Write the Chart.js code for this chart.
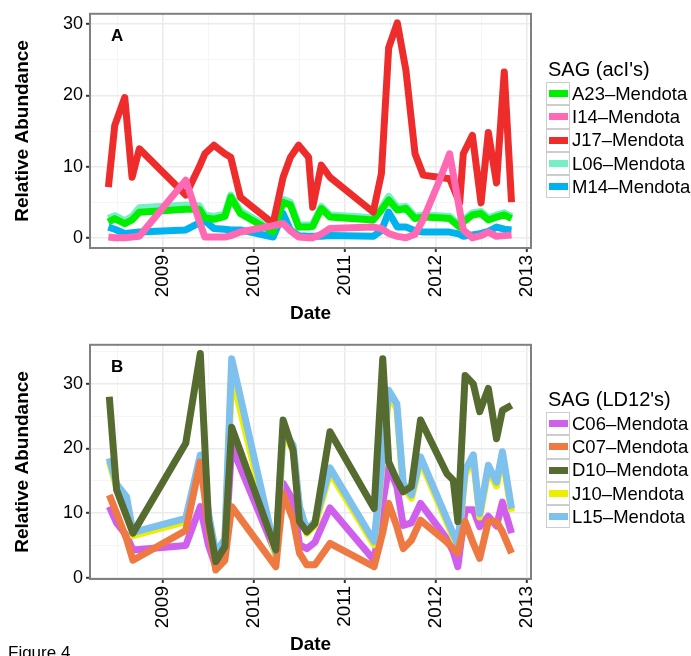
<!DOCTYPE html>
<html>
<head>
<meta charset="utf-8">
<script src="https://cdn.jsdelivr.net/npm/chart.js@4.4.0/dist/chart.umd.min.js"></script>
<style>
  body { margin: 0; width: 691px; height: 656px; overflow: hidden; background: #fff; position: relative;
         font-family: "Liberation Sans", Arial, Helvetica, sans-serif; color: #000; }
  .panel { position: absolute; left: 0; width: 691px; height: 330px; }
  .legend { position: absolute; left: 546px; }
  .legend .ttl { position: absolute; left: 2px; top: 0; font-size: 20px; line-height: 24px; white-space: nowrap; }
  .legend .keys { position: absolute; left: 0; top: 25px; }
  .legend .row { display: flex; align-items: center; height: 23.3px; }
  .legend .key { box-sizing: border-box; width: 24px; height: 23.3px; border: 1px solid #cdcdcd;
                 display: flex; align-items: center; justify-content: center; background: #fff; }
  .legend .bar { width: 19px; height: 7px; }
  .legend .lbl { margin-left: 2px; font-size: 18.5px; white-space: nowrap; }
  #fig { position: absolute; left: 8px; top: 643px; font-size: 17px; z-index: 5; }
</style>
</head>
<body>
<div class="panel" style="top:0"><canvas id="chartA" width="691" height="330"></canvas></div>
<div class="panel" style="top:331px"><canvas id="chartB" width="691" height="330"></canvas></div>
<div class="legend" id="legA" style="top:57px"></div>
<div class="legend" id="legB" style="top:387px"></div>
<div id="fig">Figure 4</div>

<script>
// sampling dates (decimal years) and relative abundances, acI SAGs
const datesA = [2008.40, 2008.47, 2008.58, 2008.66, 2008.74, 2009.25, 2009.40, 2009.46, 2009.56, 2009.68,
                2009.745, 2009.85, 2010.21, 2010.32, 2010.40, 2010.49, 2010.60, 2010.645, 2010.74, 2010.835,
                2011.31, 2011.40, 2011.48, 2011.575, 2011.67, 2011.77, 2011.86, 2012.03, 2012.15, 2012.26,
                2012.30, 2012.40, 2012.495, 2012.575, 2012.665, 2012.75, 2012.83];
const a23 = [2.2, 2.7, 2.0, 2.5, 3.6, 4.0, 4.0, 2.8, 2.6, 3.0, 5.7, 3.4, 0.8, 5.0, 4.6, 1.5, 1.5, 1.6, 4.1, 2.9,
             2.5, 3.9, 5.3, 3.9, 4.1, 2.7, 2.9, 2.8, 2.7, 1.5, 2.2, 3.2, 3.4, 2.5, 2.9, 3.2, 2.7];
const i14 = [0.1, 0.0, 0.0, 0.1, 0.2, 8.1, 2.3, 0.1, 0.1, 0.1, 0.3, 0.8, 1.7, 2.0, 1.0, 0.1, 0.0, 0.0, 0.5, 1.3,
             1.5, 1.3, 0.6, 0.2, 0.0, 0.5, 2.6, 7.8, 11.8, 3.9, 1.1, 0.0, 0.3, 0.8, 0.2, 0.3, 0.4];
const j17 = [7.1, 15.8, 19.7, 8.5, 12.5, 6.0, 10.0, 11.8, 13.0, 11.8, 11.3, 5.7, 2.0, 8.5, 11.3, 13.0, 11.3, 4.3, 10.2, 8.5,
             3.6, 9.0, 26.7, 30.2, 23.5, 11.8, 8.8, 8.5, 8.3, 4.9, 11.8, 14.4, 4.9, 14.8, 7.7, 23.3, 5.0];
const l06 = [2.7, 3.1, 2.4, 3.0, 4.2, 4.6, 4.5, 3.2, 3.0, 3.3, 6.0, 3.8, 1.1, 5.4, 5.0, 1.8, 1.8, 1.9, 4.4, 3.2,
             2.8, 4.2, 5.8, 4.3, 4.4, 3.0, 3.2, 3.1, 3.0, 1.8, 2.5, 3.5, 3.7, 2.8, 3.2, 3.5, 3.0];
const m14 = [1.5, 1.2, 0.6, 0.7, 0.8, 1.1, 2.1, 2.4, 1.3, 1.2, 1.1, 1.1, 0.1, 3.4, 1.1, 0.3, 0.2, 0.2, 0.2, 0.3,
             0.2, 1.0, 3.6, 1.5, 1.5, 1.0, 0.8, 0.8, 0.8, 0.5, 0.2, 0.4, 0.6, 0.9, 1.5, 1.2, 1.1];

// LD12 SAGs
const datesB = [2008.41, 2008.49, 2008.60, 2008.67, 2009.25, 2009.41, 2009.50, 2009.58, 2009.68, 2009.755,
                2010.24, 2010.32, 2010.43, 2010.50, 2010.58, 2010.67, 2010.835, 2011.32, 2011.415, 2011.48,
                2011.57, 2011.64, 2011.73, 2011.83, 2012.12, 2012.19, 2012.24, 2012.32, 2012.41, 2012.48,
                2012.575, 2012.665, 2012.73, 2012.83];
const c06 = [11.0, 8.5, 6.5, 4.3, 5.0, 11.0, 5.0, 1.7, 3.5, 20.3, 3.8, 14.6, 12.0, 5.1, 4.5, 5.5, 10.8, 2.7, 11.5, 17.2,
             14.1, 8.1, 8.5, 11.5, 6.0, 4.0, 1.7, 10.5, 10.5, 7.9, 9.5, 8.0, 11.7, 6.9];
const c07 = [12.8, 10.0, 6.0, 2.7, 7.3, 17.9, 8.0, 1.2, 2.7, 11.0, 1.7, 13.0, 9.0, 3.8, 2.0, 2.0, 5.3, 1.7, 7.0, 11.5,
             7.9, 4.5, 5.8, 8.9, 5.5, 4.5, 3.8, 8.7, 5.3, 3.0, 8.7, 8.7, 7.1, 3.8];
const d10 = [28.0, 13.6, 9.5, 6.9, 20.8, 34.7, 8.9, 2.5, 4.8, 23.3, 4.3, 24.4, 19.7, 8.7, 7.1, 8.4, 22.6, 10.7, 33.9, 17.9,
             15.1, 13.3, 14.1, 24.4, 16.1, 15.1, 8.7, 31.3, 30.0, 25.7, 29.3, 21.5, 25.9, 26.7];
const j10 = [18.0, 14.0, 12.0, 6.5, 8.7, 18.4, 9.5, 3.3, 5.5, 31.5, 3.3, 22.1, 19.9, 10.5, 6.9, 8.1, 16.3, 5.1, 18.4, 28.3,
             26.2, 14.0, 12.3, 18.1, 8.6, 6.3, 4.6, 16.0, 18.4, 9.4, 16.8, 14.2, 18.9, 10.2];
const l15 = [18.5, 14.5, 12.5, 7.0, 9.2, 19.0, 10.0, 3.8, 6.0, 33.9, 3.8, 22.8, 20.5, 11.0, 7.4, 8.7, 17.0, 5.6, 19.0, 29.0,
             26.9, 14.6, 12.8, 18.7, 9.1, 6.8, 5.1, 16.6, 19.0, 9.9, 17.4, 14.8, 19.5, 10.7];

const yearTicks = [2008.5, 2009, 2009.5, 2010, 2010.5, 2011, 2011.5, 2012, 2012.5, 2013];
const yTicksA = [0, 5, 10, 15, 20, 25, 30];
const yTicksB = [0, 5, 10, 15, 20, 25, 30, 35];

const FONT = '"Liberation Sans", Arial, Helvetica, sans-serif';

// series: label, values, colour, draw order (lower = on top)
const seriesA = [
  { label: 'A23\u2013Mendota', data: a23, color: '#00ee00', order: 3 },
  { label: 'I14\u2013Mendota', data: i14, color: '#ff69b4', order: 1 },
  { label: 'J17\u2013Mendota', data: j17, color: '#ee2c2c', order: 2 },
  { label: 'L06\u2013Mendota', data: l06, color: '#76eec6', order: 5 },
  { label: 'M14\u2013Mendota', data: m14, color: '#00b2ee', order: 4 }
];
const seriesB = [
  { label: 'C06\u2013Mendota', data: c06, color: '#d15fee', order: 5 },
  { label: 'C07\u2013Mendota', data: c07, color: '#ee7942', order: 2 },
  { label: 'D10\u2013Mendota', data: d10, color: '#556b2f', order: 1 },
  { label: 'J10\u2013Mendota', data: j10, color: '#eeee00', order: 4 },
  { label: 'L15\u2013Mendota', data: l15, color: '#7ec0ee', order: 3 }
];

// panel border + panel letter
const panelFrame = {
  id: 'panelFrame',
  afterDatasetsDraw(chart, args, opts) {
    const { ctx, chartArea: a } = chart;
    ctx.save();
    ctx.strokeStyle = '#808080';
    ctx.lineWidth = 2;
    ctx.strokeRect(a.left, a.top, a.right - a.left, a.bottom - a.top);
    ctx.fillStyle = '#000';
    ctx.font = 'bold 17px ' + FONT;
    ctx.textBaseline = 'middle';
    ctx.fillText(opts.tag, a.left + 21, a.top + 23);
    ctx.restore();
  }
};

function makeChart(id, dates, series, yTicks, yMin, yMax, tag) {
  return new Chart(document.getElementById(id), {
    type: 'line',
    data: {
      datasets: series.map(s => ({
        label: s.label,
        data: dates.map((d, i) => ({ x: d, y: s.data[i] })),
        borderColor: s.color,
        backgroundColor: s.color,
        borderWidth: 7,
        pointRadius: 0,
        tension: 0,
        borderJoinStyle: 'round',
        order: s.order
      }))
    },
    options: {
      responsive: false,
      animation: false,
      devicePixelRatio: 1,
      layout: { padding: { top: 13, right: 160, left: 0, bottom: 0 } },
      plugins: {
        legend: { display: false },
        tooltip: { enabled: false },
        panelFrame: { tag: tag }
      },
      scales: {
        x: {
          type: 'linear',
          min: 2008.198,
          max: 2013.044,
          afterBuildTicks: s => { s.ticks = yearTicks.map(v => ({ value: v })); },
          afterFit: s => { s.height = 82; },
          border: { display: false },
          grid: {
            color: c => (c.tick && Number.isInteger(c.tick.value)) ? '#ebebeb' : '#f5f5f5',
            lineWidth: c => (c.tick && Number.isInteger(c.tick.value)) ? 1.6 : 1,
            tickColor: c => (c.tick && Number.isInteger(c.tick.value)) ? '#333' : 'rgba(0,0,0,0)',
            tickLength: 4,
            tickWidth: 2
          },
          ticks: {
            autoSkip: false,
            minRotation: 90,
            maxRotation: 90,
            padding: 3,
            color: '#000',
            font: { family: FONT, size: 19 },
            callback: v => Number.isInteger(v) ? String(v) : ''
          },
          title: {
            display: true,
            text: 'Date',
            color: '#000',
            font: { family: FONT, size: 19, weight: 'bold' },
            padding: { top: 0, bottom: 5 }
          }
        },
        y: {
          min: yMin,
          max: yMax,
          afterBuildTicks: s => { s.ticks = yTicks.map(v => ({ value: v })); },
          afterFit: s => { s.width = 90; },
          border: { display: false },
          grid: {
            color: c => (c.tick && c.tick.value % 10 === 0) ? '#ebebeb' : '#f5f5f5',
            lineWidth: c => (c.tick && c.tick.value % 10 === 0) ? 1.6 : 1,
            tickColor: c => (c.tick && c.tick.value % 10 === 0) ? '#333' : 'rgba(0,0,0,0)',
            tickLength: 4,
            tickWidth: 2
          },
          ticks: {
            autoSkip: false,
            padding: 3,
            color: '#000',
            font: { family: FONT, size: 18 },
            callback: v => (v % 10 === 0) ? String(v) : ''
          },
          title: {
            display: true,
            text: 'Relative Abundance',
            color: '#000',
            font: { family: FONT, size: 19, weight: 'bold' },
            padding: { top: 11, bottom: 0 }
          }
        }
      }
    },
    plugins: [panelFrame]
  });
}

makeChart('chartA', datesA, seriesA, yTicksA, -1.44, 31.47, 'A');
makeChart('chartB', datesB, seriesB, yTicksB, -0.2, 36.05, 'B');

// ggplot-style key boxes next to each panel
function buildLegend(elId, title, series) {
  const el = document.getElementById(elId);
  const t = document.createElement('div');
  t.className = 'ttl';
  t.textContent = title;
  el.appendChild(t);
  const wrap = document.createElement('div');
  wrap.className = 'keys';
  series.forEach(s => {
    const row = document.createElement('div');
    row.className = 'row';
    const key = document.createElement('div');
    key.className = 'key';
    const bar = document.createElement('div');
    bar.className = 'bar';
    bar.style.background = s.color;
    key.appendChild(bar);
    const lbl = document.createElement('span');
    lbl.className = 'lbl';
    lbl.textContent = s.label;
    row.appendChild(key);
    row.appendChild(lbl);
    wrap.appendChild(row);
  });
  el.appendChild(wrap);
}

buildLegend('legA', "SAG (acI's)", seriesA);
buildLegend('legB', "SAG (LD12's)", seriesB);
</script>
</body>
</html>
